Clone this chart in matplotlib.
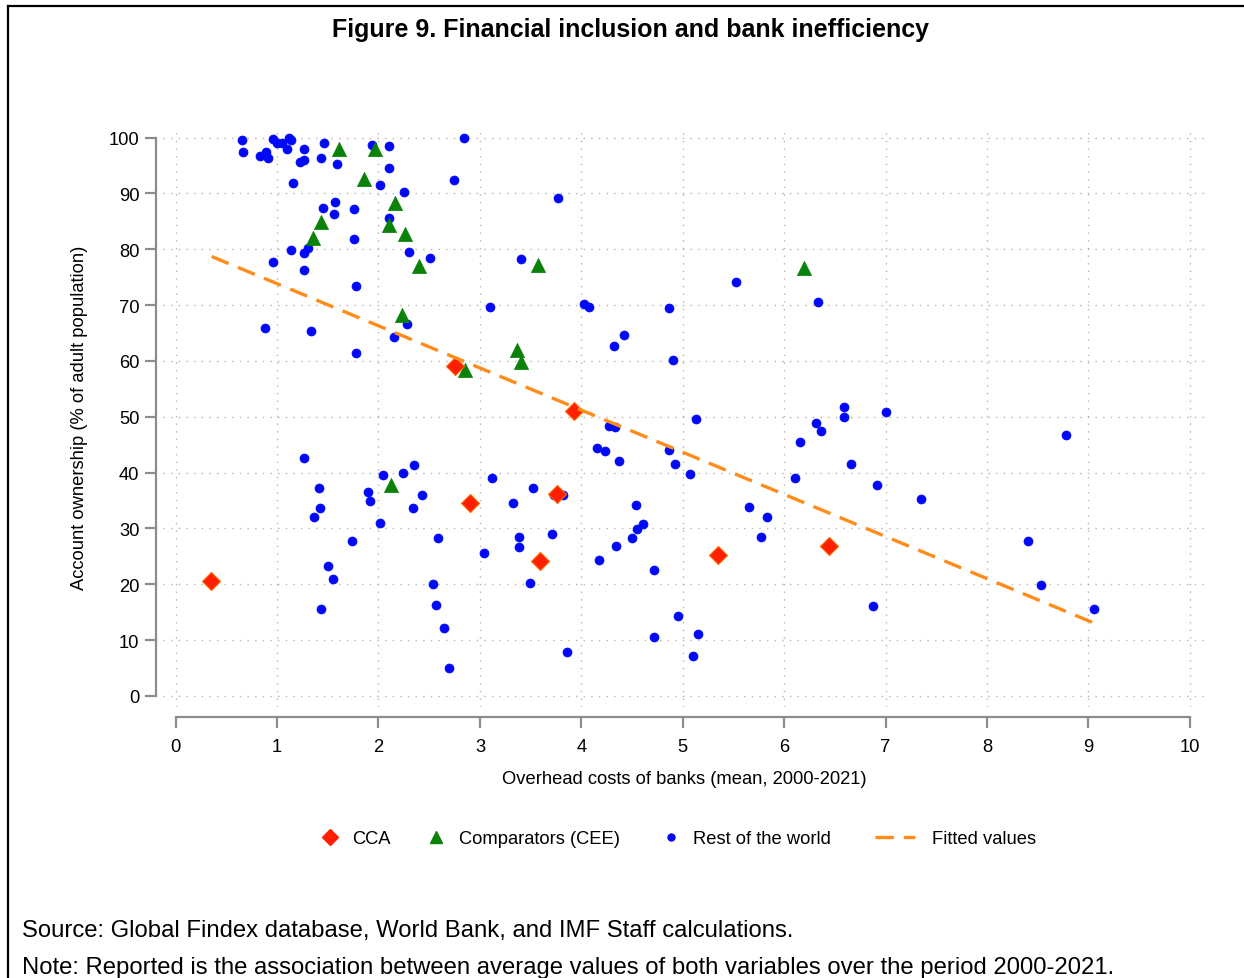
import matplotlib
matplotlib.use("Agg")
import matplotlib.pyplot as plt
from matplotlib.lines import Line2D

plt.rcParams['font.family'] = ['Liberation Sans', 'DejaVu Sans']

# CCA countries
cca_x = [0.35, 2.75, 2.90, 3.59, 3.76, 3.93, 5.35, 6.44]
cca_y = [20.5, 59.0, 34.6, 24.2, 36.2, 51.1, 25.2, 26.8]

# Comparators (CEE)
cee_x = [1.61, 1.97, 1.86, 2.16, 1.43, 2.10, 2.26, 1.35, 2.40, 2.23, 2.85, 3.37, 3.41, 3.57, 6.20, 2.12]
cee_y = [98.0, 97.9, 92.5, 88.3, 84.8, 84.3, 82.7, 82.1, 77.0, 68.2, 58.3, 62.0, 59.8, 77.2, 76.7, 37.7]

# Rest of the world
row_x = [0.65, 0.66, 0.96, 1.00, 1.05, 1.12, 1.14, 0.89, 0.83, 0.91, 1.10, 1.27, 1.46, 1.23, 1.27,
         1.43, 1.59, 1.16, 1.94, 2.01, 2.10, 2.10, 2.25, 2.74, 2.84,
         1.57, 1.45, 1.56, 1.76, 2.10, 1.76, 1.14, 1.30, 1.27, 2.30, 2.51, 0.96, 1.27, 1.78, 3.10,
         0.88, 1.33, 1.78, 2.28, 2.15, 4.03, 4.08,
         3.77, 3.41, 5.53, 6.33, 4.86, 4.32, 4.42, 4.90, 4.27, 4.33, 5.13, 6.59, 6.59, 7.00, 6.31,
         6.36, 6.16, 4.15, 4.23,
         4.37, 4.86, 4.92, 5.07, 3.73, 3.82, 4.54, 4.61, 4.55, 4.50, 4.34, 4.17, 4.72, 6.11, 6.66,
         6.92, 7.35, 5.65, 5.83, 5.77, 6.88, 4.95, 4.72, 5.15, 5.10, 3.86,
         1.27, 1.41, 1.42, 1.36, 1.90, 1.92, 2.04, 2.24, 2.35, 2.43, 2.34, 2.01, 1.74, 2.59, 1.50,
         1.55, 1.43, 2.54, 2.57, 2.65, 2.70, 3.12, 3.04, 3.33, 3.52, 3.39, 3.39, 3.71, 3.49,
         8.78, 8.40, 8.53, 9.06]
row_y = [99.6, 97.4, 99.8, 99.1, 99.1, 100.0, 99.5, 97.5, 96.7, 96.4, 97.9, 98.0, 99.0, 95.7, 95.9,
         96.3, 95.2, 91.9, 98.6, 91.5, 98.5, 94.5, 90.2, 92.4, 100.0,
         88.4, 87.4, 86.4, 87.3, 85.6, 81.9, 79.8, 80.2, 79.3, 79.5, 78.5, 77.7, 76.3, 73.5, 69.6,
         65.9, 65.4, 61.4, 66.6, 64.2, 70.2, 69.6,
         89.2, 78.3, 74.1, 70.6, 69.4, 62.7, 64.7, 60.1, 48.3, 48.2, 49.6, 51.7, 49.9, 50.8, 48.9,
         47.4, 45.5, 44.4, 43.9,
         42.1, 44.1, 41.5, 39.8, 36.0, 35.9, 34.2, 30.8, 29.8, 28.2, 26.8, 24.4, 22.6, 39.0, 41.6,
         37.8, 35.3, 33.8, 32.0, 28.5, 16.1, 14.3, 10.5, 11.0, 7.2, 7.9,
         42.6, 37.3, 33.6, 32.1, 36.5, 34.9, 39.6, 40.0, 41.3, 35.9, 33.6, 31.0, 27.7, 28.2, 23.2,
         20.9, 15.6, 20.1, 16.3, 12.2, 5.0, 39.0, 25.5, 34.5, 37.3, 28.4, 26.6, 29.0, 20.3,
         46.7, 27.7, 19.8, 15.6]

# Fitted values (end points of the fitted line)
fit_x = [0.355, 9.06]
fit_y = [78.7, 13.0]

x_ticks = list(range(0, 11))
y_ticks = list(range(0, 101, 10))

blue = '#0008f5'
green = '#0a820a'
red = '#ff1e00'
orange = '#ff8c1a'
grey = '#8c8c8c'

W, H = 1244, 979
fig = plt.figure(figsize=(W / 100, H / 100), dpi=100)
ax = fig.add_axes([163 / W, 1 - 708 / H, (1205 - 163) / W, (708 - 128) / H])

ax.scatter(row_x, row_y, s=42, color=blue, edgecolors=blue, linewidths=0.5, zorder=3)
ax.scatter(cee_x, cee_y, marker='^', s=105, color=green, edgecolors=green, linewidths=0.5, zorder=4)
ax.scatter(cca_x, cca_y, marker='D', s=85, color=red, edgecolors='#ff6a00', linewidths=0.8, zorder=5)
ax.plot(fit_x, fit_y, color=orange, lw=2.4, dashes=(5.5, 3), zorder=6)

ax.set_xlim(-0.125, 10.15)
ax.set_ylim(-2.0, 101.9)
ax.set_xticks(x_ticks)
ax.set_yticks(y_ticks)

ax.grid(True, color='#b4b4b4', linestyle=(0, (1, 4.5)), lw=1.0, zorder=0)
ax.xaxis.get_gridlines()[-1].set_visible(False)

for s in ['top', 'right']:
    ax.spines[s].set_visible(False)
ax.spines['left'].set_position(('outward', 5))
ax.spines['bottom'].set_position(('outward', 7))
ax.spines['left'].set_bounds(0, 100)
ax.spines['bottom'].set_bounds(0, 10)
for s in ['left', 'bottom']:
    ax.spines[s].set_color(grey)
    ax.spines[s].set_linewidth(1.6)

ax.tick_params(axis='both', colors=grey, width=1.6, length=8, labelcolor='black', labelsize=13.2)
ax.tick_params(axis='x', pad=7)
ax.tick_params(axis='y', pad=4)

ax.set_xlabel('Overhead costs of banks (mean, 2000-2021)', fontsize=13.2, labelpad=11)
ax.set_ylabel('Account ownership (% of adult population)', fontsize=13.2, labelpad=15)

fig.text(631 / W, 1 - 30 / H, 'Figure 9. Financial inclusion and bank inefficiency',
         ha='center', va='center', fontsize=18, fontweight='bold')

# legend, laid out as in the original (one row under the x axis)
leg_y = 1 - 838 / H
leg_items = [
    ('D', red, 330, 352, 'CCA'),
    ('^', green, 436, 459, 'Comparators (CEE)'),
    ('o', blue, 671, 693, 'Rest of the world'),
]
for mk, col, mx, tx, lab in leg_items:
    ms = {'D': 8.5, '^': 9, 'o': 5}[mk]
    fig.add_artist(Line2D([mx / W], [leg_y], marker=mk, color=col, markeredgecolor=col,
                          ls='none', markersize=ms))
    fig.text(tx / W, leg_y - 2 / H, lab, ha='left', va='center', fontsize=13.2)
fig.add_artist(Line2D([875 / W, 915 / W], [leg_y, leg_y], color=orange, lw=2.4, dashes=(5.5, 3)))
fig.text(932 / W, leg_y - 2 / H, 'Fitted values', ha='left', va='center', fontsize=13.2)

fig.text(22 / W, 1 - 931 / H, 'Source: Global Findex database, World Bank, and IMF Staff calculations.',
         ha='left', va='center', fontsize=17.2)
fig.text(22 / W, 1 - 968 / H, 'Note: Reported is the association between average values of both variables over the period 2000-2021.',
         ha='left', va='center', fontsize=17.2)

# border of the figure box
fig.add_artist(Line2D([8 / W, 1], [1 - 7 / H, 1 - 7 / H], color='black', lw=1.6))
fig.add_artist(Line2D([8 / W, 8 / W], [0, 1 - 7 / H], color='black', lw=1.6))

fig.savefig('out.png', dpi=100)
